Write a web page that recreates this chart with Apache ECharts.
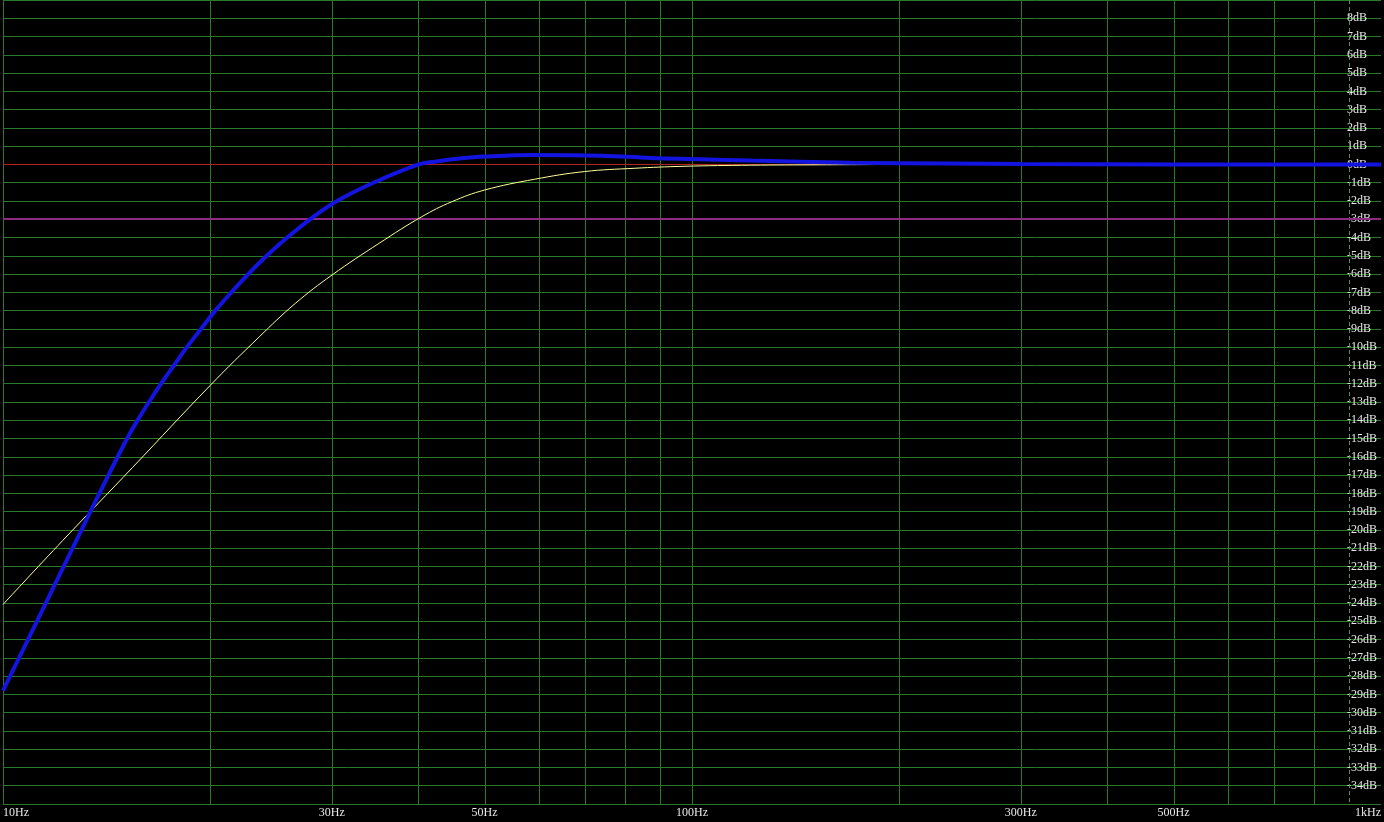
<!DOCTYPE html>
<html>
<head>
<meta charset="utf-8">
<script src="https://cdn.jsdelivr.net/npm/echarts@6/dist/echarts.min.js"></script>
<style>
html,body{margin:0;padding:0;background:#000;}
#chart{width:1384px;height:822px;}
</style>
</head>
<body>
<div id="chart"></div>
<script>
// Frequency grid (Hz) and label ticks
const gridFreqs = [10,20,30,40,50,60,70,80,90,100,200,300,400,500,600,700,800];
const dashedFreqs = [900];
const labelFreqs = [10,30,50,100,300,500,1000];
const zeroLevel = [0];
const minus3Level = [-3];

// Blue response: [Hz, dB]
const blueFreq = [10,11.20,12.62,13.80,15.14,15.68,16.29,16.96,17.70,18.49,19.38,20.33,21.45,22.70,24.14,25.85,27.91,30.53,34.49,40.12,42.33,46.0,50.0,59.06,73.84,87.1,103.0,121.8,169.8,236.6,300,500,1000];
const blueDb   = [-28.8,-25,-21,-18,-15,-14,-13,-12,-11,-10,-9,-8,-7,-6,-5,-4,-3,-2,-1,0,0.15,0.32,0.43,0.52,0.48,0.36,0.29,0.21,0.10,0.05,0.02,0,0];

// Yellow response: [Hz, dB]
const yellowFreq = [10,12.21,15.42,20.0,23.54,26.55,30.03,35.13,40.53,44.81,50.0,59.07,69.78,82.42,97.37,121.7,153.8,196.0];
const yellowDb   = [-24.08,-20.58,-16.58,-12.08,-9.44,-7.61,-6.05,-4.32,-2.86,-2.04,-1.40,-0.81,-0.39,-0.21,-0.10,-0.04,-0.02,0];

const zip = (a,b) => a.map((v,i) => [v,b[i]]);
const FONT = 'Liberation Serif';
const GRID = '#287a28';

// crisp vertical line at a frequency, position from the axis scale
function vLine(color, dash) {
  return function (params, api) {
    const cs = params.coordSys;
    const x = Math.round(api.coord([api.value(0), 0])[0]) + 0.5;
    return {
      type: 'line', silent: true,
      shape: {x1: x, y1: cs.y, x2: x, y2: cs.y + cs.height},
      style: {stroke: color, lineWidth: 1, lineDash: dash || null}
    };
  };
}
// horizontal reference line at a dB level
function hLine(color, width) {
  return function (params, api) {
    const cs = params.coordSys;
    const y = Math.round(api.coord([10, api.value(1)])[1]) + (width % 2 ? 0.5 : 0);
    return {
      type: 'line', silent: true,
      shape: {x1: cs.x, y1: y, x2: cs.x + cs.width, y2: y},
      style: {stroke: color, lineWidth: width}
    };
  };
}

const chart = echarts.init(document.getElementById('chart'), null, {renderer:'canvas'});
chart.setOption({
  backgroundColor: '#000',
  animation: false,
  grid: {left: 0, right: 0, top: 0, bottom: 18, containLabel: false, show: false},
  xAxis: {
    type: 'log', logBase: 10, min: 10, max: 1000, z: 0,
    axisLine: {show: false},
    axisTick: {show: false},
    splitLine: {show: false},
    axisLabel: {
      customValues: labelFreqs,
      color: '#e8e8e8', fontFamily: FONT, fontSize: 12, margin: 3,
      alignMinLabel: 'left', alignMaxLabel: 'right',
      formatter: v => v >= 1000 ? (v/1000) + 'kHz' : v + 'Hz'
    }
  },
  yAxis: {
    type: 'value', min: -35, max: 9, interval: 1, position: 'right', z: 0,
    axisLine: {show: false}, axisTick: {show: false},
    splitLine: {show: true, lineStyle: {color: GRID, width: 1}},
    axisLabel: {
      inside: true, align: 'left', margin: 34,
      color: '#e8e8e8', fontFamily: FONT, fontSize: 12,
      formatter: v => (v === 9 || v === -35) ? '' : v + 'dB'
    }
  },
  series: [
    {
      name: 'vgrid', type: 'custom', silent: true, z: 1, clip: false,
      data: gridFreqs.map(f => [f, 0]),
      renderItem: vLine(GRID)
    },
    {
      name: 'vgrid-dashed', type: 'custom', silent: true, z: 1, clip: false,
      data: dashedFreqs.map(f => [f, 0]),
      renderItem: vLine('#5f8a5f', [4, 3])
    },
    {
      name: 'zero', type: 'custom', silent: true, z: 2, clip: false,
      data: zeroLevel.map(l => [10, l]),
      renderItem: hLine('#b02222', 1)
    },
    {
      name: 'minus3', type: 'custom', silent: true, z: 2, clip: false,
      data: minus3Level.map(l => [10, l]),
      renderItem: hLine('#8c2c82', 2)
    },
    {
      name: 'yellow', type: 'line', data: zip(yellowFreq, yellowDb), smooth: 0.4,
      showSymbol: false, silent: true, z: 3,
      lineStyle: {color: '#ffff9a', width: 1}
    },
    {
      name: 'blue', type: 'line', data: zip(blueFreq, blueDb), smooth: 0.4,
      showSymbol: false, silent: true, z: 4,
      lineStyle: {color: '#1414e0', width: 4}
    }
  ]
});
</script>
</body>
</html>
